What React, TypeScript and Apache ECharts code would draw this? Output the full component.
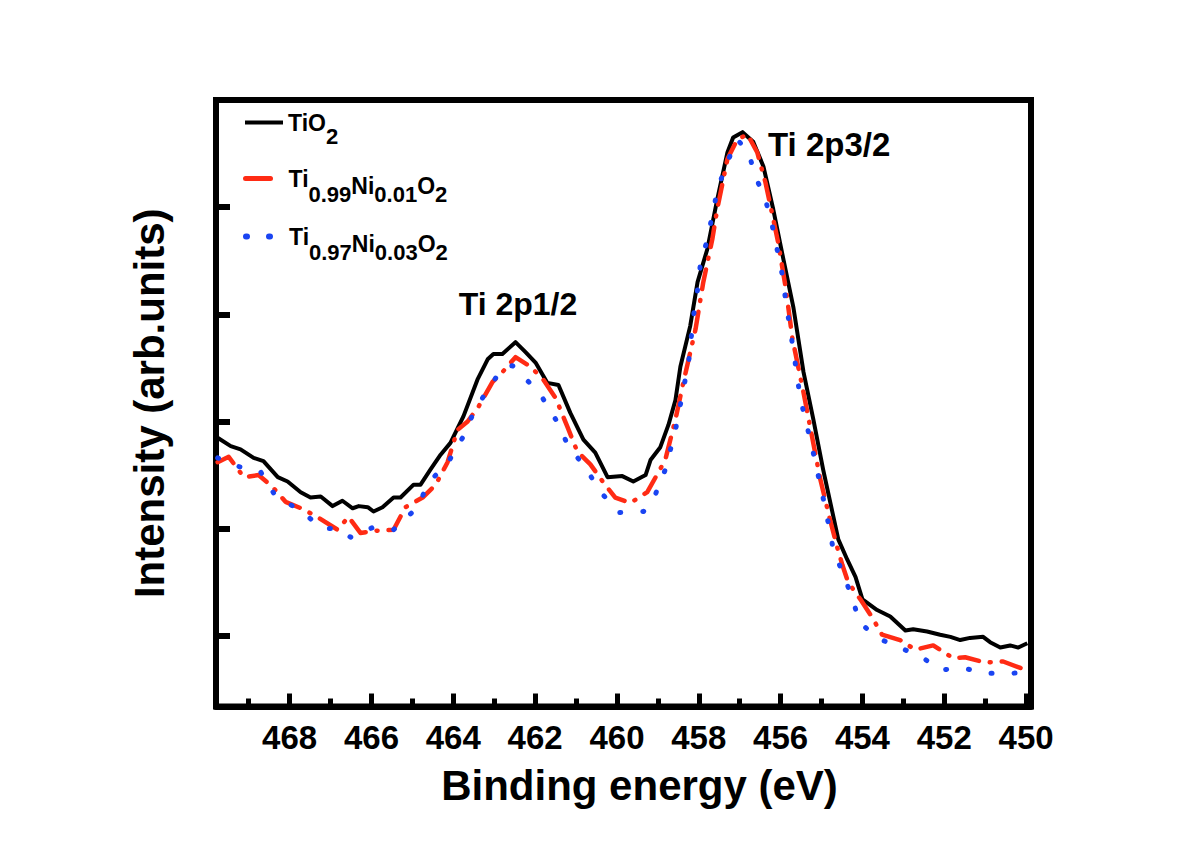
import React, { useEffect, useRef } from 'react';
import * as echarts from 'echarts';

const FONT = '"Liberation Sans", Arial, Helvetica, sans-serif';

const seriesNames = ['TiO2', 'Ti0.99Ni0.01O2', 'Ti0.97Ni0.03O2'];
const seriesColors = ['#000000', '#ff2b14', '#1a44f2'];

const majorTicks = [450, 452, 454, 456, 458, 460, 462, 464, 466, 468];
const minorTicks = [451, 453, 455, 457, 459, 461, 463, 465, 467, 469];
const yTicks = [0, 1, 2, 3, 4];

const peakLabels = ['Ti 2p3/2', 'Ti 2p1/2'];

const tio2Energy = [469.77, 469.44, 469.2, 468.88, 468.64, 468.29, 468.05, 467.73, 467.49, 467.24, 466.95, 466.71, 466.46, 466.31, 466.09, 465.95, 465.73, 465.46, 465.29, 464.97, 464.8, 464.56, 464.31, 464.07, 463.75, 463.41, 463.16, 463.02, 462.8, 462.48, 462.24, 461.99, 461.7, 461.43, 461.14, 460.82, 460.53, 460.23, 459.87, 459.6, 459.3, 459.18, 458.94, 458.74, 458.57, 458.45, 458.21, 458.03, 457.79, 457.55, 457.3, 457.16, 456.93, 456.67, 456.42, 456.18, 455.93, 455.69, 455.44, 455.2, 454.96, 454.59, 454.37, 454.17, 454.0, 453.64, 453.32, 452.95, 452.76, 452.42, 452.1, 451.85, 451.61, 451.37, 451.05, 450.88, 450.63, 450.39, 450.19, 449.97];
const tio2Intensity = [1.85, 1.77, 1.74, 1.66, 1.63, 1.48, 1.44, 1.34, 1.29, 1.3, 1.21, 1.26, 1.19, 1.21, 1.2, 1.16, 1.2, 1.29, 1.29, 1.41, 1.41, 1.55, 1.69, 1.8, 2.05, 2.39, 2.58, 2.63, 2.63, 2.74, 2.65, 2.55, 2.36, 2.34, 2.08, 1.83, 1.71, 1.48, 1.49, 1.44, 1.5, 1.64, 1.76, 1.97, 2.2, 2.51, 2.89, 3.3, 3.61, 4.07, 4.51, 4.65, 4.7, 4.61, 4.38, 3.98, 3.51, 3.07, 2.46, 2.02, 1.55, 0.9, 0.71, 0.55, 0.34, 0.24, 0.18, 0.05, 0.06, 0.04, 0.01, -0.01, -0.04, -0.02, -0.01, -0.06, -0.11, -0.09, -0.11, -0.07];

const ni01Energy = [469.76, 469.49, 469.12, 468.76, 468.42, 468.1, 467.66, 467.29, 466.83, 466.56, 466.27, 465.9, 465.46, 465.17, 464.75, 464.43, 464.14, 463.9, 463.65, 463.38, 463.04, 462.8, 462.48, 462.11, 461.8, 461.5, 461.21, 460.97, 460.65, 460.33, 460.04, 459.67, 459.26, 458.82, 458.57, 458.38, 458.08, 457.89, 457.67, 457.55, 457.3, 457.06, 456.81, 456.57, 456.37, 456.18, 456.06, 455.88, 455.71, 455.44, 455.03, 454.79, 454.62, 454.49, 454.35, 454.05, 453.76, 453.52, 453.08, 452.71, 452.27, 451.78, 451.49, 451.0, 450.56, 450.14, 450.02];
const ni01Intensity = [1.62, 1.67, 1.48, 1.5, 1.39, 1.25, 1.18, 1.1, 0.99, 1.11, 0.96, 0.98, 0.99, 1.2, 1.29, 1.41, 1.62, 1.92, 2.0, 2.14, 2.37, 2.46, 2.6, 2.51, 2.39, 2.22, 1.95, 1.72, 1.6, 1.43, 1.29, 1.24, 1.34, 1.64, 2.02, 2.36, 2.86, 3.3, 3.7, 3.98, 4.45, 4.63, 4.68, 4.51, 4.23, 3.89, 3.67, 3.26, 2.77, 2.27, 1.46, 1.08, 0.83, 0.66, 0.5, 0.34, 0.17, 0.01, -0.04, -0.13, -0.09, -0.21, -0.2, -0.25, -0.24, -0.3, -0.32];

const ni03Energy = [469.76, 469.25, 468.71, 468.34, 467.78, 467.19, 466.83, 466.51, 465.97, 465.46, 464.87, 464.61, 464.14, 463.77, 463.53, 463.16, 462.77, 462.55, 462.16, 461.82, 461.45, 461.19, 460.77, 460.4, 459.94, 459.35, 459.06, 458.82, 458.57, 458.25, 458.13, 458.03, 457.96, 457.79, 457.55, 457.35, 457.06, 456.79, 456.62, 456.37, 456.2, 455.96, 455.88, 455.69, 455.52, 455.22, 454.9, 454.72, 454.49, 454.25, 454.08, 453.64, 453.15, 452.54, 452.1, 451.56, 450.95, 450.34, 450.02];
const ni03Intensity = [1.66, 1.58, 1.53, 1.3, 1.18, 1.0, 1.0, 0.92, 1.01, 0.99, 1.2, 1.43, 1.61, 1.85, 2.06, 2.3, 2.51, 2.52, 2.37, 2.22, 1.99, 1.77, 1.57, 1.34, 1.15, 1.16, 1.32, 1.55, 1.92, 2.55, 2.98, 3.23, 3.47, 3.7, 4.15, 4.38, 4.63, 4.52, 4.29, 4.07, 3.82, 3.37, 3.14, 2.67, 2.22, 1.74, 1.18, 0.82, 0.59, 0.36, 0.13, -0.02, -0.1, -0.2, -0.32, -0.3, -0.35, -0.35, -0.34];

const zip = (xs: number[], ys: number[]) => xs.map((x, i) => [x, ys[i]]);

const legendRich: Record<string, string> = {
  'TiO2': '{a|TiO}{t|2}',
  'Ti0.99Ni0.01O2': '{a|Ti}{s|0.99}{b|Ni}{s|0.01}{b|O}{s|2}',
  'Ti0.97Ni0.03O2': '{a|Ti}{s|0.97}{b|Ni}{s|0.03}{b|O}{s|2}',
};

const txt = { fontFamily: FONT, fontWeight: 'bold' as const, color: '#000' };
const rich = {
  a: { ...txt, fontSize: 23 },
  b: { ...txt, fontSize: 23, padding: [14, 0, 0, 0] },
  s: { ...txt, fontSize: 22, padding: [32, 0, 0, 0] },
  t: { ...txt, fontSize: 22, padding: [28, 0, 0, 0] },
};

const legendIconStyles = [
  { type: 'solid', width: 4, color: seriesColors[0] },
  { type: [25, 100], width: 5, color: seriesColors[1], cap: 'round' },
  { type: [1, 22], width: 6, color: seriesColors[2], cap: 'round' },
];
const hiddenSymbol = { color: 'rgba(0,0,0,0)', borderWidth: 0, opacity: 0 };
const legendTops = [106, 162, 220];

export default function App() {
  const ref = useRef<HTMLDivElement>(null);
  useEffect(() => {
    if (!ref.current) return;
    const chart = echarts.init(ref.current, null, { renderer: 'svg' });
    const option: any = {
      animation: false,
      backgroundColor: '#ffffff',
      grid: {
        left: 216,
        right: 169,
        top: 100,
        bottom: 141.5,
        show: true,
        borderColor: '#000',
        borderWidth: 6,
        backgroundColor: 'transparent',
      },
      legend: seriesNames.map((n, i) => ({
        data: [{ name: n, lineStyle: legendIconStyles[i], itemStyle: hiddenSymbol }],
        left: 238,
        top: legendTops[i],
        orient: 'vertical',
        itemWidth: 38,
        itemHeight: 14,
        selectedMode: false,
        formatter: (name: string) => legendRich[name],
        textStyle: { rich },
      })),
      xAxis: [
        {
          type: 'value',
          min: 449.88,
          max: 469.8,
          inverse: true,
          position: 'bottom',
          axisLine: { show: true, onZero: false, lineStyle: { color: '#000', width: 6 } },
          axisTick: { show: true, inside: true, length: 13, customValues: majorTicks, lineStyle: { color: '#000', width: 5 } },
          axisLabel: { show: true, customValues: majorTicks, fontSize: 33, fontWeight: 'bold', fontFamily: FONT, color: '#000', margin: 14 },
          splitLine: { show: false },
          name: 'Binding energy (eV)',
          nameLocation: 'middle',
          nameGap: 58,
          nameTextStyle: { fontSize: 42, fontWeight: 'bold', fontFamily: FONT, color: '#000', padding: [0, 0, 0, 32] },
        },
        {
          type: 'value',
          min: 449.88,
          max: 469.8,
          inverse: true,
          position: 'bottom',
          axisLine: { show: false, onZero: false },
          axisTick: { show: true, inside: true, length: 8, customValues: minorTicks, lineStyle: { color: '#000', width: 5 } },
          axisLabel: { show: false },
          splitLine: { show: false },
        },
      ],
      yAxis: {
        type: 'value',
        min: -0.66,
        max: 5.0,
        axisLine: { show: true, onZero: false, lineStyle: { color: '#000', width: 6 } },
        axisTick: { show: true, inside: true, length: 14, customValues: yTicks, lineStyle: { color: '#000', width: 6 } },
        axisLabel: { show: false },
        splitLine: { show: false },
        name: 'Intensity (arb.units)',
        nameLocation: 'middle',
        nameRotate: 90,
        nameGap: 46,
        nameTextStyle: { fontSize: 42, fontWeight: 'bold', fontFamily: FONT, color: '#000' },
      },
      series: [
        {
          name: seriesNames[0],
          type: 'line',
          xAxisIndex: 0,
          data: zip(tio2Energy, tio2Intensity),
          showSymbol: false,
          symbol: 'none',
          silent: true,
          color: seriesColors[0],
          lineStyle: { color: seriesColors[0], width: 4, type: 'solid', join: 'round' },
        },
        {
          name: seriesNames[1],
          type: 'line',
          xAxisIndex: 0,
          data: zip(ni01Energy, ni01Intensity),
          showSymbol: false,
          symbol: 'none',
          silent: true,
          color: seriesColors[1],
          lineStyle: { color: seriesColors[1], width: 4.5, type: [20, 11, 1, 11], cap: 'round', join: 'round' },
        },
        {
          name: seriesNames[2],
          type: 'line',
          xAxisIndex: 0,
          data: zip(ni03Energy, ni03Intensity),
          showSymbol: false,
          symbol: 'none',
          silent: true,
          color: seriesColors[2],
          lineStyle: { color: seriesColors[2], width: 5, type: [1, 22], cap: 'round', join: 'round' },
        },
      ],
      graphic: [
        {
          type: 'text',
          x: 768,
          y: 144,
          style: { text: peakLabels[0], fontSize: 33, fontWeight: 'bold', fontFamily: FONT, fill: '#000', textAlign: 'left', textVerticalAlign: 'middle' },
        },
        {
          type: 'text',
          x: 518,
          y: 304,
          style: { text: peakLabels[1], fontSize: 32, fontWeight: 'bold', fontFamily: FONT, fill: '#000', textAlign: 'center', textVerticalAlign: 'middle' },
        },
      ],
    };
    chart.setOption(option);
    return () => chart.dispose();
  }, []);
  return (
    <div
      ref={ref}
      style={{ position: 'fixed', left: 0, top: 0, width: 1200, height: 848, background: '#fff' }}
    />
  );
}
